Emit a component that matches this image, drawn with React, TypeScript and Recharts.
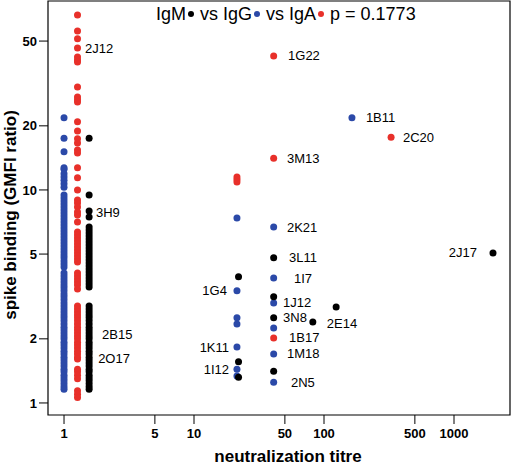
import { ScatterChart, Scatter, XAxis, YAxis, ReferenceArea, Legend } from 'recharts';

const FONT = '"Liberation Sans", Arial, Helvetica, sans-serif';
const IGM_COLOR = '#000000';
const IGG_COLOR = '#2B49A8';
const IGA_COLOR = '#E8302A';

const TITRE_TICKS = [1, 5, 10, 50, 100, 500, 1000];
const BINDING_TICKS = [1, 2, 5, 10, 20, 50];

// non-neutralizing mAbs sit at titre 1, spread a little per isotype
const IGG_STRIP_X = 1;
const IGA_STRIP_X = 1.27;
const IGM_STRIP_X = 1.56;

const IGG_STRIP_Y = [
  21.8, 17.5, 15.1, 12.7, 12.5, 11.9, 11.5, 11.1, 10.7, 10.3,
  9.48, 9.17, 8.88, 8.6, 8.32, 8.05, 7.8, 7.55, 7.31, 7.07, 6.85, 6.63, 6.42, 6.21, 6.02,
  5.82, 5.64, 5.46, 5.28, 5.12, 4.95, 4.8, 4.64, 4.49, 4.35,
  4.08, 3.95, 3.82, 3.7, 3.58, 3.47, 3.36, 3.25, 3.15, 3.05, 2.95, 2.85, 2.76, 2.67, 2.59,
  2.51, 2.43, 2.35, 2.27, 2.2, 2.13, 2.06, 2.0, 1.93, 1.87, 1.81, 1.75, 1.7, 1.64, 1.59,
  1.54, 1.49, 1.44, 1.4, 1.35, 1.31, 1.27, 1.23, 1.19, 1.16,
];

const IGA_STRIP_Y = [
  66.3, 55.8, 51.2, 46.4, 42.1, 40.8, 39.9, 30.4, 27.3, 26.5, 25.9,
  20.9, 18.9, 17.4, 16.6, 15.4, 14.9, 12.7, 11.4, 10.0, 8.98, 8.69, 8.32, 7.88, 7.63, 7.07,
  6.35, 6.15, 5.95, 5.76, 5.58, 5.4, 5.23, 5.06, 4.9, 4.74, 4.59,
  4.08, 3.95, 3.82, 3.7, 3.58, 3.43,
  2.85, 2.76, 2.67, 2.59, 2.51, 2.43, 2.35, 2.27, 2.2, 2.13, 2.06, 2.0, 1.93, 1.87, 1.81,
  1.75, 1.7, 1.64, 1.61,
  1.44, 1.4, 1.35, 1.3,
  1.14, 1.1, 1.06,
];

const IGM_STRIP_Y = [
  17.5, 9.48, 7.97, 7.47, 6.7, 6.49, 6.28, 6.08, 5.89, 5.7, 5.52, 5.34, 5.17, 5.01,
  4.85, 4.69, 4.54, 4.4, 4.26, 4.12, 3.99, 3.86, 3.74, 3.62, 3.5,
  2.85, 2.76, 2.67, 2.59, 2.51, 2.43, 2.35, 2.27, 2.2, 2.13, 2.06, 2.0, 1.93, 1.87, 1.81,
  1.75, 1.7, 1.64, 1.59, 1.54, 1.49, 1.44, 1.4, 1.35, 1.31, 1.27, 1.23, 1.19, 1.16,
];

// neutralizing mAbs
const IGG_TITRE = [21.4, 21.4, 21.4, 21.4, 21.4, 21.4, 21.4, 41, 41, 41, 41, 41, 41, 164];
const IGG_BINDING = [7.39, 3.36, 2.51, 2.35, 1.83, 1.44, 1.34, 6.7, 3.86, 2.95, 2.25, 1.7, 1.25, 21.8];

const IGA_TITRE = [21.4, 21.4, 21.4, 41, 41, 41, 328];
const IGA_BINDING = [11.5, 11.2, 10.9, 42.6, 14.1, 2.02, 17.7];

const IGM_TITRE = [22, 22, 22, 41, 41, 41, 41, 82, 124, 1995];
const IGM_BINDING = [3.91, 1.56, 1.32, 4.8, 3.15, 2.51, 1.41, 2.4, 2.82, 5.06];

// mAb name annotations
const MAB_NAMES = [
  '2J12', '3H9', '2B15', '2O17', '1G22', '1B11', '2C20', '3M13', '2K21', '3L11', '1I7',
  '1J12', '3N8', '2E14', '1B17', '1M18', '2N5', '2J17', '1G4', '1K11', '1I12',
];
const MAB_TITRE = [
  1.45, 1.76, 1.96, 1.83, 52.9, 210, 405, 51.9, 51.9, 53.8, 58.8,
  48.4, 48.4, 105, 53.8, 51.9, 55.7, 1503, 17.9, 18.6, 18.6,
];
const MAB_BINDING = [
  45.9, 7.8, 2.09, 1.61, 42.6, 21.8, 17.7, 14.1, 6.7, 4.8, 3.86,
  2.95, 2.51, 2.37, 2.02, 1.7, 1.25, 5.06, 3.36, 1.83, 1.43,
];
const MAB_ANCHOR = [
  'start', 'start', 'start', 'start', 'start', 'start', 'start', 'start', 'start', 'start', 'start',
  'start', 'start', 'start', 'start', 'start', 'start', 'end', 'end', 'end', 'end',
];

const stripPoints = (x: number, ys: number[]) => ys.map((y) => ({ x, y }));
const pairPoints = (xs: number[], ys: number[]) => xs.map((x, i) => ({ x, y: ys[i] }));

const iggData = [...stripPoints(IGG_STRIP_X, IGG_STRIP_Y), ...pairPoints(IGG_TITRE, IGG_BINDING)];
const igaData = [...stripPoints(IGA_STRIP_X, IGA_STRIP_Y), ...pairPoints(IGA_TITRE, IGA_BINDING)];
const igmData = [...stripPoints(IGM_STRIP_X, IGM_STRIP_Y), ...pairPoints(IGM_TITRE, IGM_BINDING)];
const nameData = MAB_NAMES.map((name, i) => ({
  x: MAB_TITRE[i],
  y: MAB_BINDING[i],
  name,
  anchor: MAB_ANCHOR[i],
}));

const X_DOMAIN: [number, number] = [0.753, 2696];
const Y_DOMAIN: [number, number] = [0.878, 77.1];

const dot = (color: string) => (p: any) => <circle cx={p.cx} cy={p.cy} r={3.5} fill={color} />;

const nameShape = (p: any) => (
  <text
    x={p.cx}
    y={p.cy}
    textAnchor={p.payload.anchor}
    dominantBaseline="central"
    fontSize={13}
    fontFamily={FONT}
    fill="#000"
  >
    {p.payload.name}
  </text>
);

function Bullet({ color }: { color: string }) {
  return (
    <span
      style={{
        display: 'inline-block',
        width: 6,
        height: 6,
        borderRadius: 3,
        background: color,
        margin: '0 6px 0 2px',
        verticalAlign: 'middle',
        position: 'relative',
        top: -1,
      }}
    />
  );
}

function TestKey() {
  return (
    <div style={{ fontFamily: FONT, fontSize: 18, lineHeight: '20px', color: '#000', whiteSpace: 'nowrap' }}>
      IgM<Bullet color={IGM_COLOR} />vs IgG<Bullet color={IGG_COLOR} />vs IgA<Bullet color={IGA_COLOR} />p = 0.1773
    </div>
  );
}

const tickStyle = { fontSize: 13, fontWeight: 'bold', fill: '#000', fontFamily: FONT };

export default function App() {
  return (
    <div style={{ position: 'absolute', left: 0, top: 0, background: '#fff' }}>
      <ScatterChart width={511} height={468} margin={{ top: 1, right: 1, bottom: 0, left: 0 }}>
        <XAxis
          type="number"
          dataKey="x"
          scale="log"
          domain={X_DOMAIN}
          allowDataOverflow
          ticks={TITRE_TICKS}
          interval={0}
          height={53}
          axisLine={false}
          tickSize={9}
          tickMargin={5}
          tickLine={{ stroke: '#000' }}
          tick={tickStyle}
          label={{
            content: () => (
              <text x={288} y={462} textAnchor="middle" fontSize={17} fontWeight="bold" fontFamily={FONT} fill="#000">
                neutralization titre
              </text>
            ),
          }}
        />
        <YAxis
          type="number"
          dataKey="y"
          scale="log"
          domain={Y_DOMAIN}
          allowDataOverflow
          ticks={BINDING_TICKS}
          interval={0}
          width={48}
          axisLine={false}
          tickSize={9}
          tickMargin={2}
          tickLine={{ stroke: '#000' }}
          tick={tickStyle}
          label={{
            content: () => (
              <text
                x={15.5}
                y={215}
                transform="rotate(-90, 15.5, 215)"
                textAnchor="middle"
                fontSize={17}
                fontWeight="bold"
                fontFamily={FONT}
                fill="#000"
              >
                spike binding (GMFI ratio)
              </text>
            ),
          }}
        />
        <ReferenceArea
          x1={X_DOMAIN[0]}
          x2={X_DOMAIN[1]}
          y1={Y_DOMAIN[0]}
          y2={Y_DOMAIN[1]}
          fill="none"
          fillOpacity={0}
          stroke="#000"
          strokeWidth={1.2}
          ifOverflow="visible"
        />
        <Legend
          verticalAlign="middle"
          layout="horizontal"
          wrapperStyle={{ top: 4, left: 156, width: 'auto' }}
          content={() => <TestKey />}
        />
        <Scatter name="IgG" data={iggData} shape={dot(IGG_COLOR)} isAnimationActive={false} />
        <Scatter name="IgA" data={igaData} shape={dot(IGA_COLOR)} isAnimationActive={false} />
        <Scatter name="IgM" data={igmData} shape={dot(IGM_COLOR)} isAnimationActive={false} />
        <Scatter name="mAb" data={nameData} shape={nameShape} isAnimationActive={false} legendType="none" />
      </ScatterChart>
    </div>
  );
}
